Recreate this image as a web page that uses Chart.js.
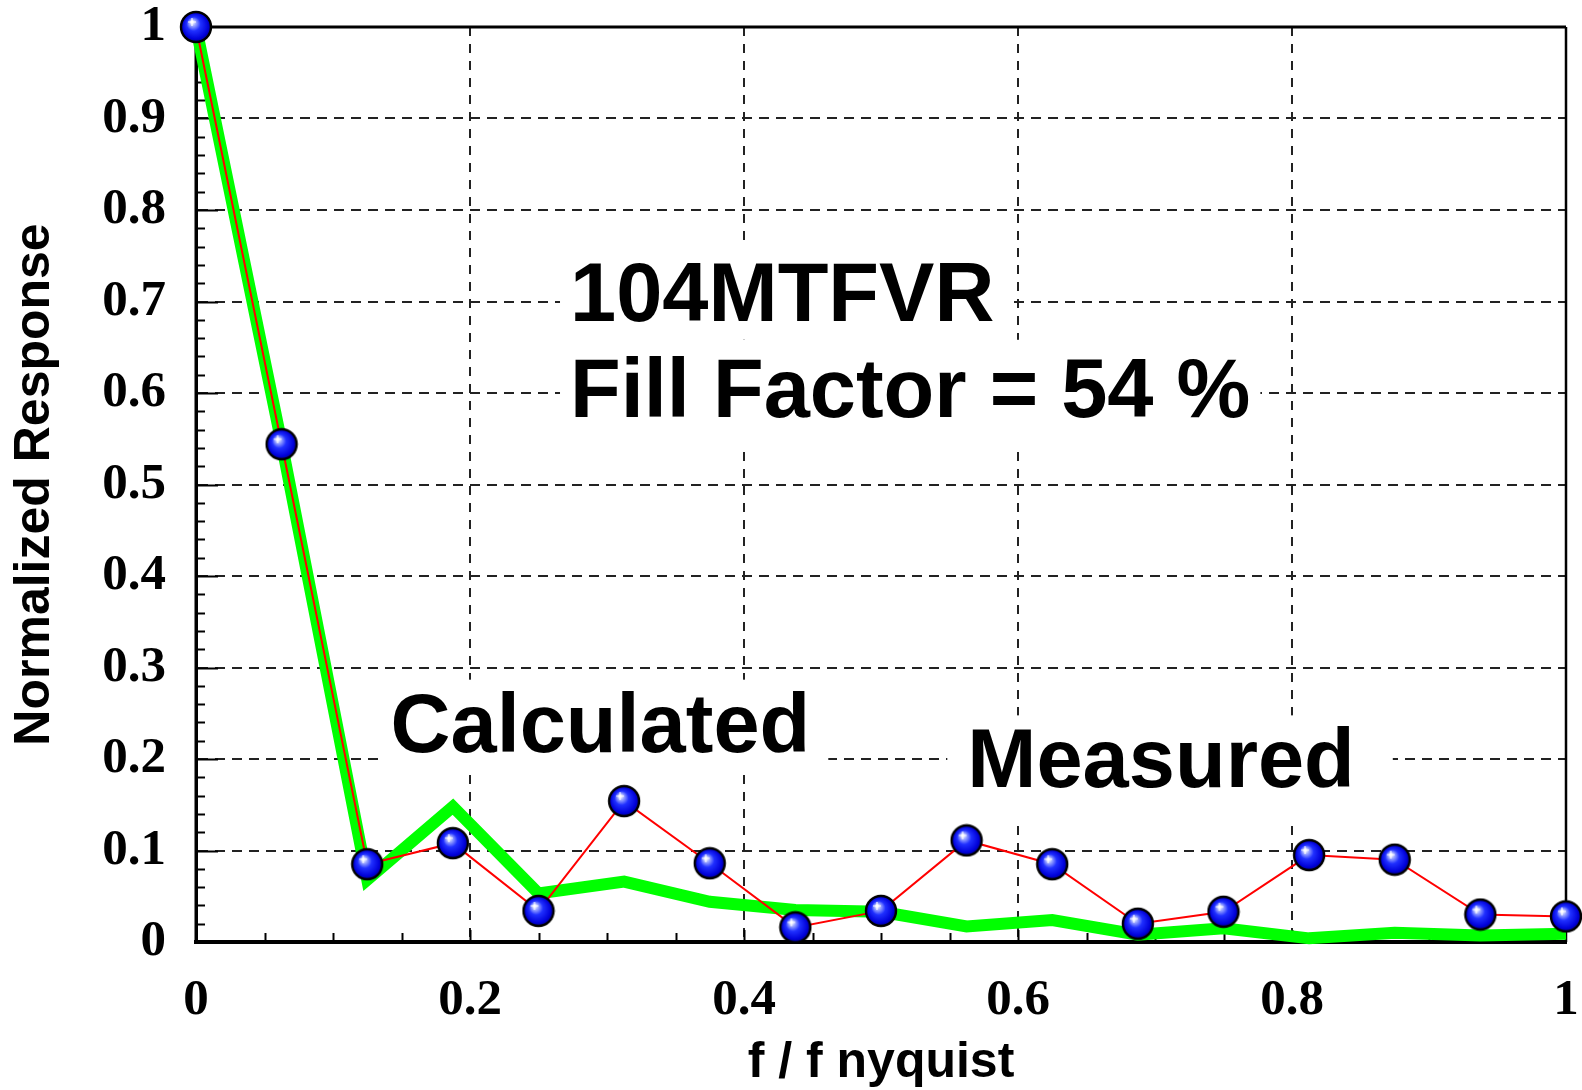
<!DOCTYPE html>
<html><head><meta charset="utf-8">
<script src="https://cdn.jsdelivr.net/npm/chart.js@4/dist/chart.umd.min.js"></script>
<style>html,body{margin:0;padding:0;background:#fff}#wrap{width:1582px;height:1090px}</style>
</head><body><div id="wrap"><canvas id="c" width="1582" height="1090"></canvas></div>
<script>
// ---- data ----
const freq = [0, 0.0625, 0.125, 0.1875, 0.25, 0.3125, 0.375, 0.4375, 0.5, 0.5625, 0.625, 0.6875, 0.75, 0.8125, 0.875, 0.9375, 1];
const measured = [1.0, 0.544, 0.085, 0.108, 0.034, 0.154, 0.086, 0.016, 0.034, 0.111, 0.085, 0.020, 0.033, 0.095, 0.090, 0.030, 0.028];
const calculated = [1.0, 0.545, 0.068, 0.148, 0.053, 0.066, 0.044, 0.035, 0.033, 0.017, 0.024, 0.008, 0.015, 0.004, 0.010, 0.007, 0.009];
const xTicks = [0, 0.2, 0.4, 0.6, 0.8, 1];
const yTicks = [0, 0.1, 0.2, 0.3, 0.4, 0.5, 0.6, 0.7, 0.8, 0.9, 1];
const xTitle = 'f / f nyquist';
const yTitle = 'Normalized Response';
const noteTexts = ['104MTFVR', 'Fill Factor = 54 %', 'Calculated', 'Measured'];

// ---- layout of annotations (data units + pixel padding: left, above baseline, right, below baseline) ----
const noteLayout = [
  {x: 0.273, y: 0.679, pad: [10, 73, 13, 19]},
  {x: 0.273, y: 0.574, pad: [10, 77, 10, 32]},
  {x: 0.142, y: 0.208, pad: [7, 72, 18, 18]},
  {x: 0.563, y: 0.169, pad: [20, 72, 38, 33]}
];

// sphere marker
function makeSphere() {
  const c = document.createElement('canvas');
  c.width = 34; c.height = 34;
  const g = c.getContext('2d');
  const grd = g.createRadialGradient(13, 12, 1, 17, 17, 16);
  grd.addColorStop(0, '#ffffff');
  grd.addColorStop(0.15, '#9aa6ff');
  grd.addColorStop(0.4, '#2030ff');
  grd.addColorStop(0.8, '#0000d8');
  grd.addColorStop(1, '#000070');
  g.beginPath(); g.arc(17, 17, 15, 0, Math.PI * 2);
  g.fillStyle = grd; g.fill();
  g.lineWidth = 2.4; g.strokeStyle = '#000'; g.stroke();
  g.strokeStyle = 'rgba(255,255,255,0.9)'; g.lineWidth = 1.2;
  g.beginPath(); g.moveTo(13, 8); g.lineTo(13, 16); g.moveTo(9, 12); g.lineTo(17, 12); g.stroke();
  return c;
}
const sphere = makeSphere();

const decor = {
  id: 'decor',
  beforeDatasetsDraw(chart) {
    const {ctx, chartArea: a, scales: {x, y}} = chart;
    ctx.save();
    ctx.setLineDash([]);
    ctx.strokeStyle = '#000';
    ctx.lineWidth = 2;
    // y minor/major inward ticks
    for (let i = 1; i < 50; i++) {
      const py = Math.round(y.getPixelForValue(i / 50)) + 0.5;
      const len = (i % 5 === 0) ? 22 : 9;
      ctx.beginPath(); ctx.moveTo(a.left, py); ctx.lineTo(a.left + len, py); ctx.stroke();
    }
    // x minor inward ticks
    for (let i = 1; i < 20; i++) {
      const px = Math.round(x.getPixelForValue(i / 20)) + 0.5;
      const len = (i % 4 === 0) ? 12 : 9;
      ctx.beginPath(); ctx.moveTo(px, a.bottom); ctx.lineTo(px, a.bottom - len); ctx.stroke();
    }
    // frame
    ctx.lineWidth = 3;
    ctx.beginPath(); ctx.moveTo(a.left, a.top); ctx.lineTo(a.right, a.top); ctx.stroke();
    ctx.beginPath(); ctx.moveTo(a.left, a.top); ctx.lineTo(a.left, a.bottom); ctx.stroke();
    ctx.lineWidth = 2.5;
    ctx.beginPath(); ctx.moveTo(a.right, a.top); ctx.lineTo(a.right, a.bottom); ctx.stroke();
    ctx.lineWidth = 4;
    ctx.beginPath(); ctx.moveTo(a.left - 1.5, a.bottom); ctx.lineTo(a.right + 1, a.bottom); ctx.stroke();
    // annotations with white boxes
    ctx.font = 'bold 83px "Liberation Sans", Arial, sans-serif';
    ctx.textBaseline = 'alphabetic';
    ctx.textAlign = 'left';
    noteTexts.forEach((t, i) => {
      const L = noteLayout[i];
      const px = x.getPixelForValue(L.x), py = y.getPixelForValue(L.y);
      const w = ctx.measureText(t).width;
      ctx.fillStyle = '#fff';
      ctx.fillRect(px - L.pad[0], py - L.pad[1], w + L.pad[0] + L.pad[2], L.pad[1] + L.pad[3]);
      ctx.fillStyle = '#000';
      ctx.fillText(t, px, py);
    });
    ctx.restore();
  }
};

const tickFont = {family: '"Liberation Serif", "Times New Roman", serif', size: 51, weight: 'bold', lineHeight: 1};
const titleFont = {family: '"Liberation Sans", Arial, sans-serif', size: 50, weight: 'bold', lineHeight: 1};
const gridColor = c => (c.tick && c.tick.value > 0.001 && c.tick.value < 0.999) ? '#222' : 'rgba(0,0,0,0)';
const zeroPad = s => { s.paddingTop = 0; s.paddingBottom = 0; s.paddingLeft = 0; s.paddingRight = 0; };

new Chart(document.getElementById('c'), {
  type: 'line',
  data: {
    datasets: [
      {
        label: 'Calculated',
        data: freq.map((f, i) => ({x: f, y: calculated[i]})),
        borderColor: '#00ff00',
        borderWidth: 12,
        borderJoinStyle: 'miter',
        borderCapStyle: 'butt',
        pointRadius: 0,
        tension: 0,
        order: 2
      },
      {
        label: 'Measured',
        data: freq.map((f, i) => ({x: f, y: measured[i]})),
        borderColor: '#ff0000',
        borderWidth: 2,
        pointStyle: sphere,
        pointRadius: 16,
        tension: 0,
        order: 1
      }
    ]
  },
  options: {
    responsive: false,
    animation: false,
    events: [],
    layout: {autoPadding: false, padding: {top: 27, right: 16, left: 0, bottom: 0}},
    plugins: {legend: {display: false}, tooltip: {enabled: false}},
    datasets: {line: {clip: false}},
    scales: {
      x: {
        type: 'linear', min: 0, max: 1,
        afterBuildTicks: s => { s.ticks = xTicks.map(v => ({value: v})); },
        afterFit: s => { s.height = 148; zeroPad(s); },
        ticks: {font: tickFont, color: '#000', padding: 33, maxRotation: 0, autoSkip: false, callback: v => String(v)},
        grid: {color: gridColor, lineWidth: 2, drawTicks: false},
        border: {display: true, color: '#000', width: 4, dash: [9, 8]},
        title: {display: true, text: xTitle, font: titleFont, color: '#000', padding: {top: 0, bottom: 2}}
      },
      y: {
        type: 'linear', min: 0, max: 1,
        afterBuildTicks: s => { s.ticks = yTicks.map(v => ({value: v})); },
        afterFit: s => { s.width = 196; zeroPad(s); },
        ticks: {font: tickFont, color: '#000', padding: 30, autoSkip: false, callback: v => String(v)},
        grid: {color: gridColor, lineWidth: 2, drawTicks: false},
        border: {display: true, color: '#000', width: 3, dash: [10, 7]},
        title: {display: true, text: yTitle, font: titleFont, color: '#000', padding: {top: 10, bottom: 0}}
      }
    }
  },
  plugins: [decor]
});
</script>
</body></html>
